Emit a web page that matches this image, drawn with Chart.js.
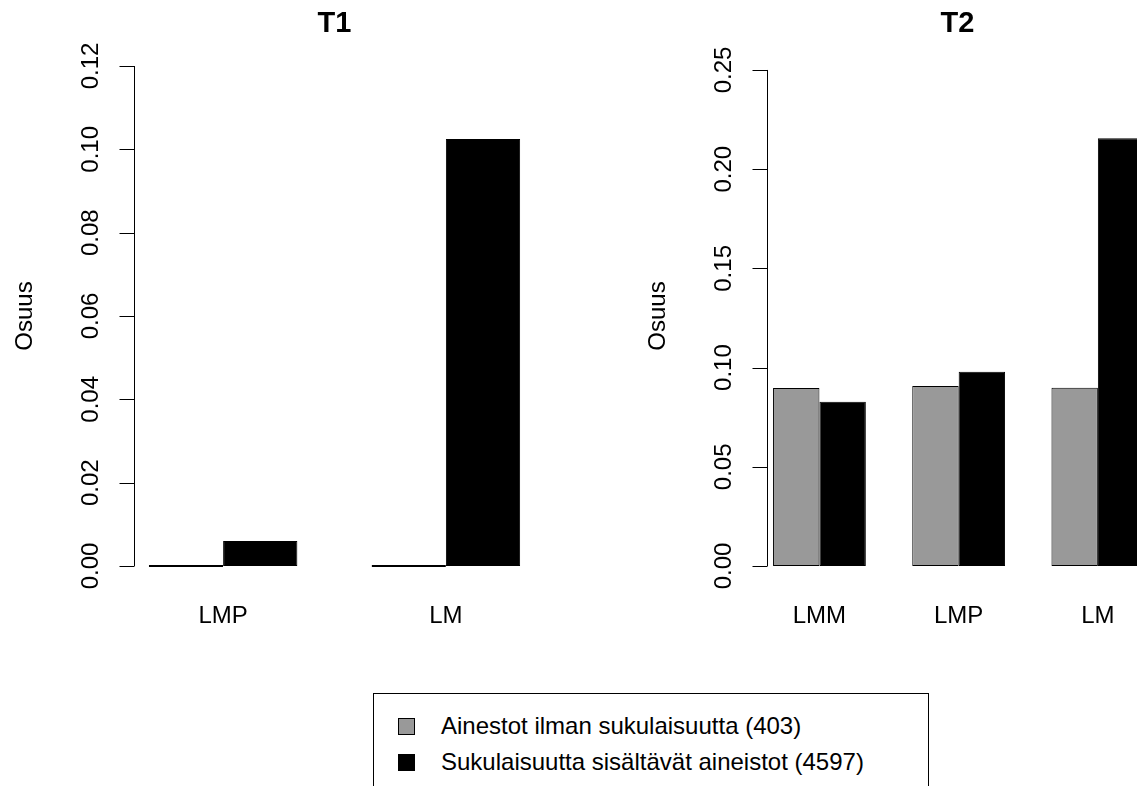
<!DOCTYPE html>
<html>
<head>
<meta charset="utf-8">
<script src="https://cdn.jsdelivr.net/npm/chart.js@4/dist/chart.umd.min.js"></script>
<style>
  html, body { margin: 0; padding: 0; background: #fff; overflow: hidden; width: 1137px; height: 786px; }
  canvas { position: absolute; top: 0; }
  #t1 { left: 0; }
  #t2 { left: 568px; }
  #legend {
    position: absolute; left: 373px; top: 693px; width: 556px; height: 130px;
    border: 1px solid #000; box-sizing: border-box;
    font: 24px "Liberation Sans", Arial, sans-serif; color: #000;
    padding: 14px 0 0 24px;
  }
  #legend div { height: 36px; line-height: 36px; white-space: nowrap; }
  #legend span {
    display: inline-block; width: 15px; height: 15px; border: 1px solid #000;
    margin-right: 26px; vertical-align: -1px;
  }
</style>
</head>
<body>
<canvas id="t1" width="568" height="650"></canvas>
<canvas id="t2" width="600" height="650"></canvas>
<div id="legend"></div>
<script>
const seriesNames = ['Ainestot ilman sukulaisuutta (403)', 'Sukulaisuutta sisältävät aineistot (4597)'];
const seriesColors = ['#999999', '#000000'];

const groupsT1 = ['LMP', 'LM'];
const unrelatedT1 = [0, 0];
const relatedT1 = [0.0060, 0.1025];
const ylimT1 = 0.12;
const ticksT1 = [0, 0.02, 0.04, 0.06, 0.08, 0.10, 0.12];
const tickLabelsT1 = ['0.00', '0.02', '0.04', '0.06', '0.08', '0.10', '0.12'];

const groupsT2 = ['LMM', 'LMP', 'LM'];
const unrelatedT2 = [0.0897, 0.0907, 0.0899];
const relatedT2 = [0.0828, 0.0979, 0.2156];
const ylimT2 = 0.252;
const ticksT2 = [0, 0.05, 0.10, 0.15, 0.20, 0.25];
const tickLabelsT2 = ['0.00', '0.05', '0.10', '0.15', '0.20', '0.25'];

const FONT = '"Liberation Sans", Arial, sans-serif';

// base-graphics style axes: y axis with rotated labels, group names, title, ylab
const rAxes = {
  id: 'rAxes',
  afterDraw(chart, args, opts) {
    const ctx = chart.ctx;
    const area = chart.chartArea;
    const x = chart.scales.x, y = chart.scales.y;
    ctx.save();
    ctx.strokeStyle = '#000';
    ctx.fillStyle = '#000';
    ctx.lineWidth = 1;

    const left = Math.round(area.left) + 0.5;
    ctx.beginPath();
    ctx.moveTo(left, y.getPixelForValue(opts.ticks[0]));
    ctx.lineTo(left, y.getPixelForValue(opts.ticks[opts.ticks.length - 1]));
    opts.ticks.forEach(v => {
      const py = Math.round(y.getPixelForValue(v)) + 0.5;
      ctx.moveTo(left, py);
      ctx.lineTo(left - 15, py);
    });
    ctx.stroke();

    ctx.font = '24px ' + FONT;
    ctx.textAlign = 'center';
    ctx.textBaseline = 'alphabetic';
    opts.ticks.forEach((v, i) => {
      ctx.save();
      ctx.translate(area.left - 36, y.getPixelForValue(v));
      ctx.rotate(-Math.PI / 2);
      ctx.fillText(opts.tickLabels[i], 0, 0);
      ctx.restore();
    });

    ctx.save();
    ctx.translate(area.left - 102, (area.top + area.bottom) / 2);
    ctx.rotate(-Math.PI / 2);
    ctx.fillText('Osuus', 0, 0);
    ctx.restore();

    x.ticks.forEach((t, i) => {
      ctx.fillText(opts.groups[i], x.getPixelForValue(t.value), area.bottom + 37);
    });

    ctx.font = 'bold 29px ' + FONT;
    ctx.fillText(opts.title, (area.left + area.right) / 2, area.top - 14);
    ctx.restore();
  }
};

function makePanel(id, title, groups, unrelated, related, ylim, ticks, tickLabels, xlim, padding) {
  // each group takes bar slots 1-2, 4-5, 7-8 ... centred at 2, 5, 8
  const centers = groups.map((g, i) => 2 + 3 * i);
  const series = [unrelated, related];
  new Chart(document.getElementById(id), {
    type: 'bar',
    data: {
      datasets: series.map((vals, s) => ({
        label: seriesNames[s],
        data: vals.map((v, i) => ({ x: centers[i], y: v })),
        backgroundColor: seriesColors[s],
        borderColor: '#000',
        borderWidth: 1,
        borderSkipped: false,
        minBarLength: 2,
        categoryPercentage: 2 / 3,
        barPercentage: 1
      }))
    },
    options: {
      responsive: false,
      animation: false,
      layout: { padding: padding },
      scales: {
        x: {
          type: 'linear', min: xlim[0], max: xlim[1], offset: false, display: false,
          afterBuildTicks: scale => { scale.ticks = centers.map(v => ({ value: v })); }
        },
        y: { min: -0.04 * ylim, max: 1.04 * ylim, display: false }
      },
      plugins: {
        legend: { display: false },
        tooltip: { enabled: false },
        rAxes: { title: title, groups: groups, ticks: ticks, tickLabels: tickLabels }
      }
    },
    plugins: [rAxes]
  });
}

makePanel('t1', 'T1', groupsT1, unrelatedT1, relatedT1, ylimT1, ticksT1, tickLabelsT1,
  [0.8, 6.2], { left: 134, right: 33, top: 46, bottom: 64 });
makePanel('t2', 'T2', groupsT2, unrelatedT2, relatedT2, ylimT2, ticksT2, tickLabelsT2,
  [0.87, 9.08], { left: 199, right: 20, top: 46, bottom: 64 });

const legend = document.getElementById('legend');
seriesNames.forEach((name, s) => {
  const row = document.createElement('div');
  const box = document.createElement('span');
  box.style.background = seriesColors[s];
  row.appendChild(box);
  row.appendChild(document.createTextNode(name));
  legend.appendChild(row);
});
</script>
</body>
</html>
